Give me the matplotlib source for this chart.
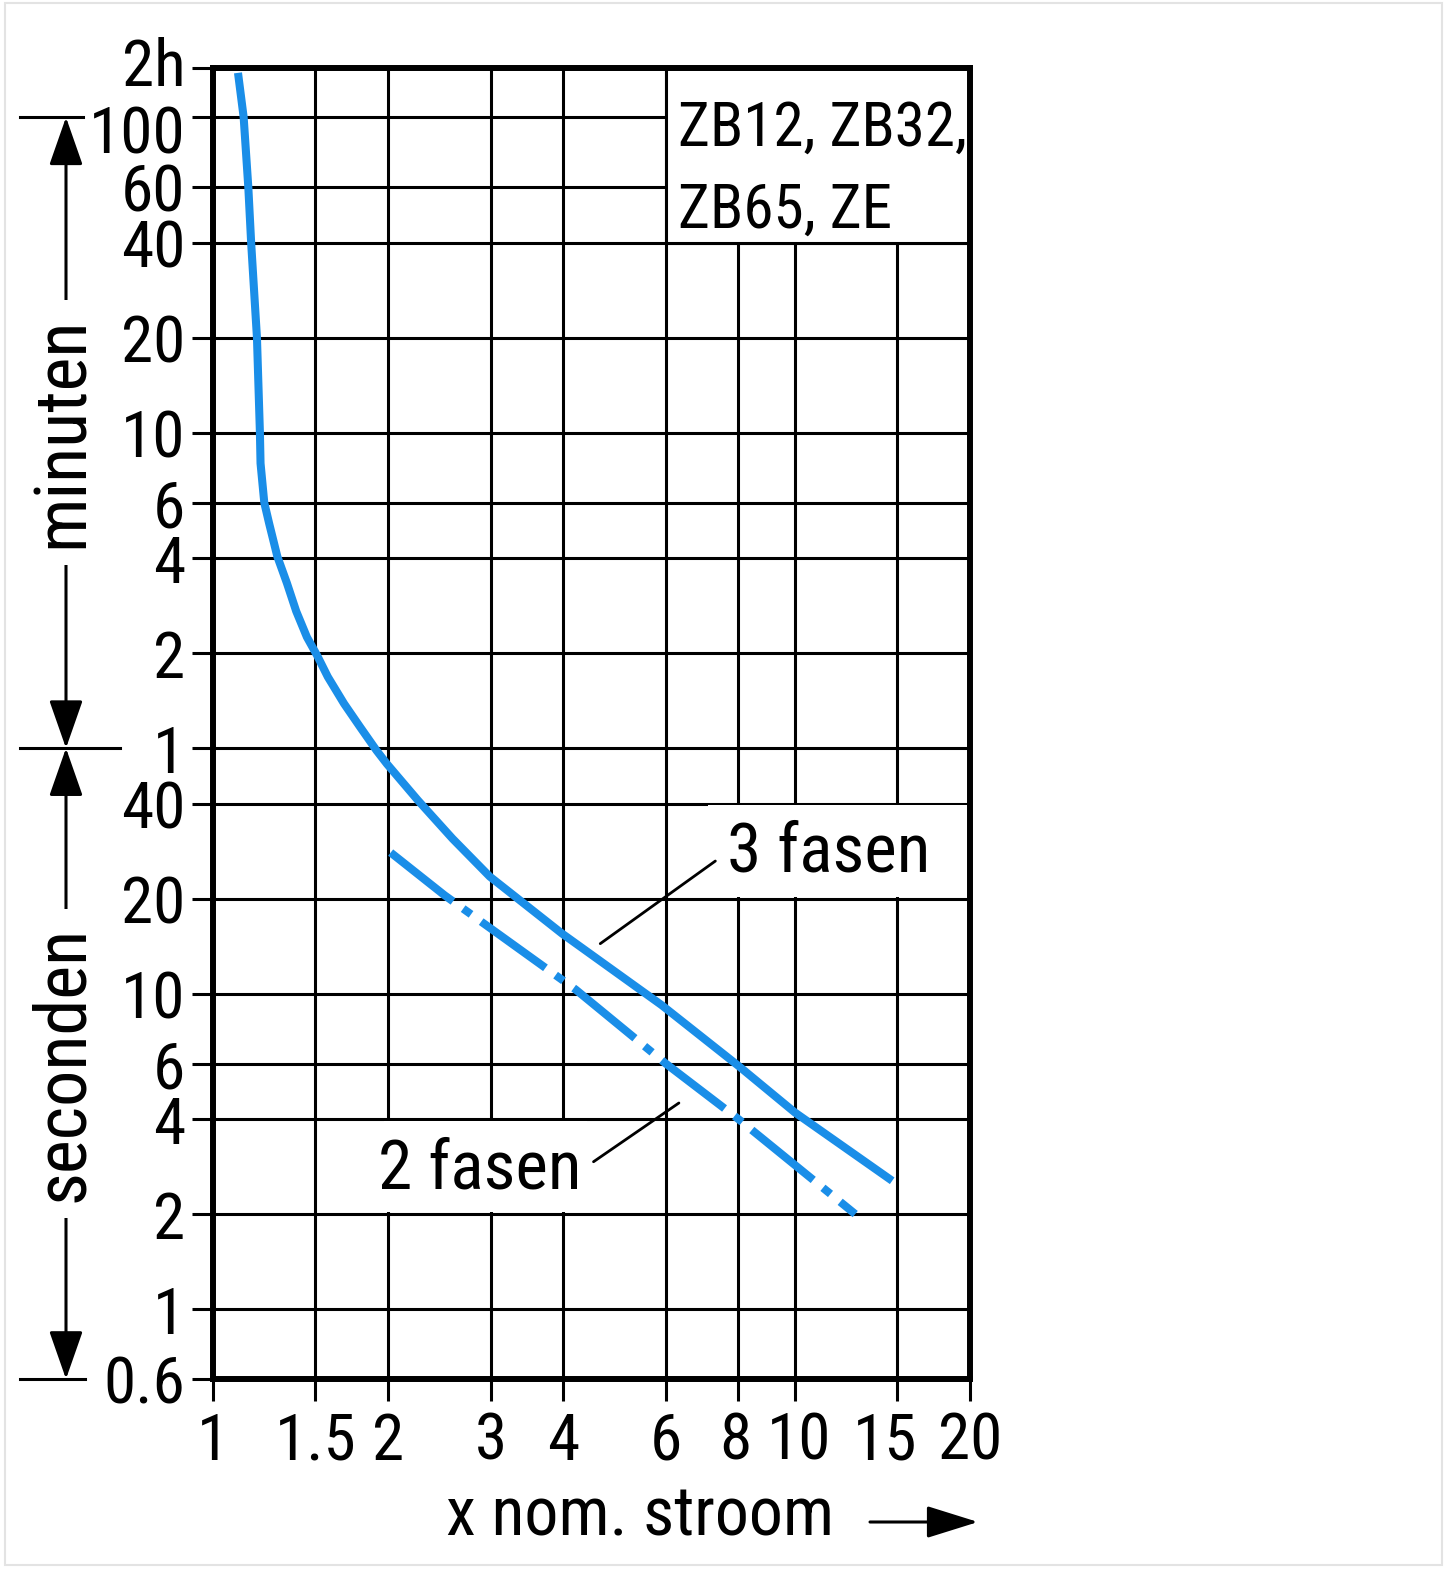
import matplotlib
matplotlib.use("Agg")
import matplotlib.pyplot as plt
import matplotlib.transforms as mtrans
from matplotlib import font_manager as fm
from matplotlib.patches import Rectangle, FancyArrowPatch
from matplotlib.lines import Line2D
from matplotlib.ticker import NullLocator

# ---------------- data ----------------
x_ticks = [1, 1.5, 2, 3, 4, 6, 8, 10, 15, 20]
x_tick_labels = ["1", "1.5", "2", "3", "4", "6", "8", "10", "15", "20"]

# y values in seconds; the top edge of the chart is the line labelled "2h"
Y_TOP = 8600
y_ticks = [0.6, 1, 2, 4, 6, 10, 20, 40, 60, 120, 240, 360, 600, 1200, 2400, 3600, 6000, Y_TOP]
y_tick_labels = ["0.6", "1", "2", "4", "6", "10", "20", "40",
                 "1", "2", "4", "6", "10", "20", "40", "60", "100", "2h"]

# 3 fasen (solid)
x_3f = [1.104, 1.129, 1.15, 1.163, 1.19, 1.204, 1.207, 1.225, 1.249, 1.29, 1.34, 1.39, 1.45,
        1.51, 1.575, 1.68, 1.79, 1.91, 1.99, 2.25, 2.58, 2.99, 3.98, 5.90,
        8.0, 10.0, 14.7]
t_3f = [8300, 6000, 3600, 2400, 1200, 600, 480, 360, 309, 243, 200, 163, 135,
        118, 101, 83, 70, 59, 53.5, 41, 31, 23.5, 15.5, 9.2,
        5.9, 4.2, 2.55]

# 2 fasen (dash-dot)
x_2f = [2.02, 2.5, 4.2, 6.0, 8.0, 12.7]
t_2f = [28, 20.5, 10.3, 6.0, 4.0, 2.0]

label_box = ["ZB12, ZB32,", "ZB65, ZE"]
label_3f = "3 fasen"
label_2f = "2 fasen"
xlabel = "x nom. stroom"

# ---------------- style ----------------
names = {f.name for f in fm.fontManager.ttflist}
FONT = "DejaVu Sans"
for cand in ["Liberation Sans Narrow", "Roboto Condensed", "Open Sans Condensed", "Liberation Sans"]:
    if cand in names:
        FONT = cand
        break
plt.rcParams["font.family"] = [FONT, "DejaVu Sans"]
plt.rcParams["lines.scale_dashes"] = False

BLUE = "#1a8ee8"
W, H = 1450, 1572
fig = plt.figure(figsize=(W / 100, H / 100), dpi=100)
fig.patch.set_facecolor("white")
ax = fig.add_axes([213 / W, 1 - 1379 / H, (970 - 213) / W, (1379 - 68) / H])

ax.set_xscale("log")
ax.set_yscale("log")
ax.set_xlim(1, 20)
ax.set_ylim(0.6, Y_TOP)
ax.set_xticks(x_ticks)
ax.set_xticklabels(x_tick_labels)
ax.set_yticks(y_ticks)
ax.set_yticklabels(y_tick_labels)
ax.xaxis.set_minor_locator(NullLocator())
ax.yaxis.set_minor_locator(NullLocator())

ax.set_axisbelow(True)
ax.grid(True, which="major", color="black", lw=2.2)
for s in ax.spines.values():
    s.set_linewidth(4.3)
    s.set_color("black")
ax.tick_params(axis="y", length=15, width=2.2, pad=5, labelsize=47)
ax.tick_params(axis="x", length=16, width=2.2, pad=7, labelsize=47)

# small nudges of crowded labels, as in the reference
def nudge(label, dx_px, dy_px):
    label.set_transform(label.get_transform() +
                        mtrans.ScaledTranslation(dx_px / 100, dy_px / 100, fig.dpi_scale_trans))

ylbls = ax.get_yticklabels()
nudge(ylbls[-1], 0, 7)     # 2h
nudge(ylbls[-2], 0, -12)   # 100
xlbls = ax.get_xticklabels()
nudge(xlbls[6], -3, 0)     # 8
nudge(xlbls[7], 4, 0)      # 10
nudge(xlbls[8], -12, 0)    # 15

# white label areas covering the grid
ax.add_patch(Rectangle((6, 2400), 20 - 6, Y_TOP - 2400, facecolor="white",
                       edgecolor="black", lw=2.2, zorder=1))
ax.add_patch(Rectangle((7.1, 20 * 1.012), 20 - 7.1, 40 / 1.012 - 20 * 1.012,
                       facecolor="white", edgecolor="none", zorder=1))
ax.add_patch(Rectangle((1.965, 2 * 1.012), 4.4 - 1.965, 4 / 1.012 - 2 * 1.012,
                       facecolor="white", edgecolor="none", zorder=1))

# curves
ax.plot(x_3f, t_3f, color=BLUE, lw=5.8, solid_capstyle="butt", solid_joinstyle="round", zorder=2)
ax.plot(x_2f, t_2f, color=BLUE, lw=5.8, ls=(0, (57, 9, 7, 9)), dash_capstyle="butt", zorder=2)

# labels with leader lines
ax.annotate(label_3f, xy=(4.63, 14.4), xytext=(7.65, 28), textcoords="data",
            ha="left", va="center", fontsize=50,
            arrowprops=dict(arrowstyle="-", lw=2.0, color="black",
                            relpos=(0, 0.5), shrinkA=8, shrinkB=0))
ax.annotate(label_2f, xy=(6.32, 4.5), xytext=(4.3, 2.76), textcoords="data",
            ha="right", va="center", fontsize=50,
            arrowprops=dict(arrowstyle="-", lw=2.0, color="black",
                            relpos=(1, 0.5), shrinkA=8, shrinkB=0))

# legend-box text
fig.text(678 / W, 1 - 146 / H, label_box[0], ha="left", va="baseline", fontsize=44)
fig.text(678 / W, 1 - 228 / H, label_box[1], ha="left", va="baseline", fontsize=44)

# x label with arrow
fig.text(640 / W, 1 - 1536 / H, xlabel, ha="center", va="baseline", fontsize=49)
fig.add_artist(FancyArrowPatch((870 / W, 1 - 1522 / H), (978 / W, 1 - 1522 / H),
                               transform=fig.transFigure,
                               arrowstyle="-|>,head_length=3.2,head_width=1.0",
                               mutation_scale=10, lw=2.2, color="black",
                               shrinkA=0, shrinkB=0))

# left range markers (minuten / seconden)
blend = mtrans.blended_transform_factory(fig.transFigure, ax.transData)
xv = 66 / W
for (y0, y1) in [(6000, 60), (60, 0.6)]:
    a = FancyArrowPatch((xv, y0), (xv, y1), transform=blend,
                        arrowstyle="<|-|>,head_length=3.0,head_width=1.05",
                        mutation_scale=10, lw=2.2, color="black",
                        shrinkA=0, shrinkB=0, clip_on=False)
    fig.add_artist(a)
for (yv, xa, xb) in [(6000, 20, 83), (60, 20, 120), (0.6, 20, 85)]:
    fig.add_artist(Line2D([xa / W, xb / W], [yv, yv], transform=blend,
                          color="black", lw=2.2, clip_on=False))
for (txt, yv) in [("minuten", 600), ("seconden", 6)]:
    fig.text(83 / W, yv, txt, transform=blend, rotation=90,
             rotation_mode="anchor", ha="center", va="baseline", fontsize=52,
             bbox=dict(facecolor="white", edgecolor="none", pad=12))

# faint image border
fig.add_artist(Rectangle((5 / W, 1 - 1565 / H), (1442 - 5) / W, (1565 - 3) / H,
                         transform=fig.transFigure, fill=False,
                         edgecolor="#e3e3e3", lw=1.5))

fig.savefig("out.png", dpi=100, facecolor="white")
